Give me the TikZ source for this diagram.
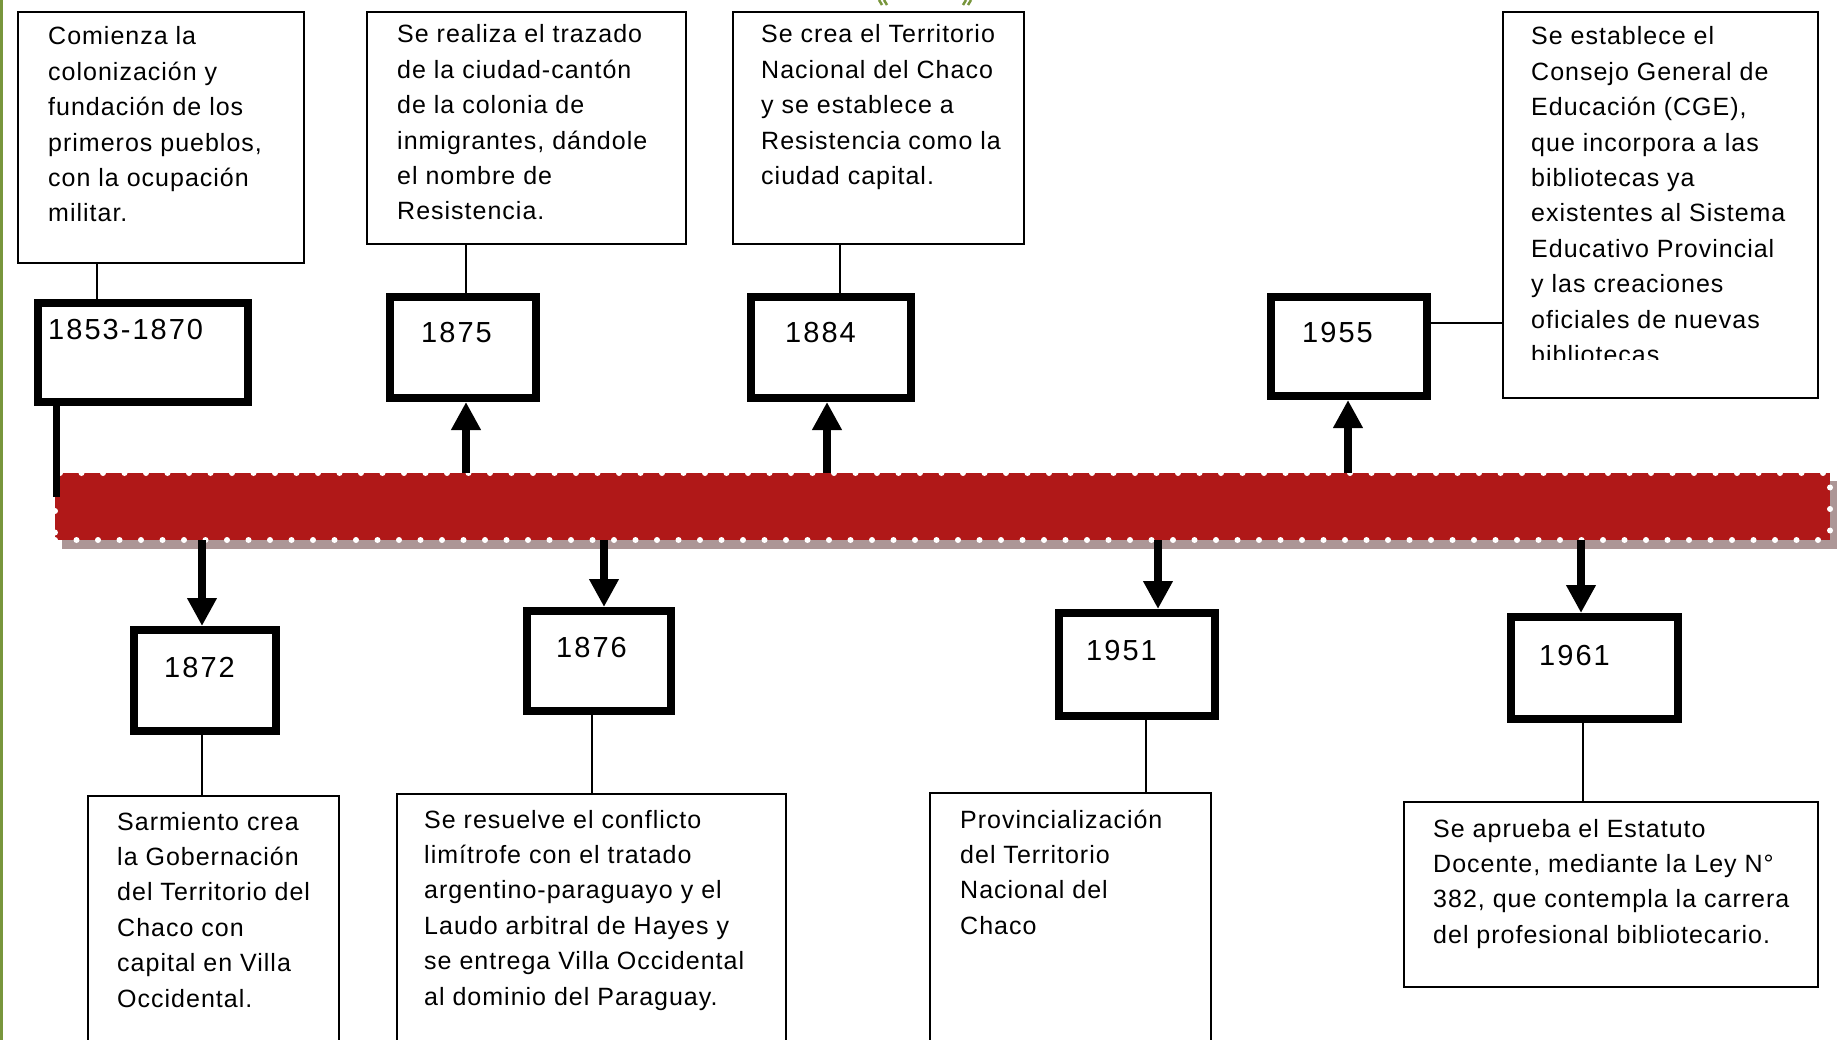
\documentclass[tikz,border=0pt]{standalone}
\usepackage{fontspec}
\setmainfont{Liberation Sans}
\newfontfamily\bodyfont[LetterSpace=4]{Liberation Sans}
\newfontfamily\yearfont[LetterSpace=7]{Liberation Sans}
\usetikzlibrary{arrows.meta}
\definecolor{barred}{RGB}{176,24,24}
\definecolor{barshadow}{RGB}{172,150,150}
\definecolor{edgegreen}{RGB}{120,150,60}
\newcommand{\txtlines}[1]{\parbox[t]{420pt}{\raggedright\bodyfont\fontsize{25}{35.4}\selectfont #1}}
\begin{document}
\begin{tikzpicture}[x=1pt,y=-1pt,
  textbox/.style={draw, line width=2.5pt, fill=white, inner sep=0pt},
  yearbox/.style={draw, line width=8pt, fill=white, inner sep=0pt},
  bodytext/.style={anchor=base west, inner sep=0pt},
  yeartext/.style={anchor=base west, inner sep=0pt, font=\yearfont\fontsize{29}{35}\selectfont},
  thinline/.style={line width=2pt},
  thickarrow/.style={line width=8pt, -{Triangle[width=28pt,length=28pt]}},
  greenmark/.style={edgegreen, line width=2.5pt}
  ]
\useasboundingbox (0,0) rectangle (1841,1040);
\clip (0,0) rectangle (1841,1040);
\fill[white] (0,0) rectangle (1841,1040);
\fill[edgegreen] (0,0) rectangle (3,1040);
\draw[greenmark] (879,0) -- (882,5) (884,0) -- (887,5);
\draw[greenmark] (966,0) -- (963,5) (971,0) -- (968,5);

% text boxes (top)
\node[textbox, minimum width=286pt, minimum height=251pt] (tA) at (161,137.5) {};
\node[textbox, minimum width=319pt, minimum height=232pt] (tB) at (526.5,128) {};
\node[textbox, minimum width=291pt, minimum height=232pt] (tC) at (878.5,128) {};
\node[textbox, minimum width=315pt, minimum height=386pt] (tD) at (1660.5,205) {};
% text boxes (bottom)
\node[textbox, minimum width=251pt, minimum height=274pt] (tE) at (213.5,933) {};
\node[textbox, minimum width=389pt, minimum height=276pt] (tF) at (591.5,932) {};
\node[textbox, minimum width=281pt, minimum height=277pt] (tG) at (1070.5,931.5) {};
\node[textbox, minimum width=414pt, minimum height=185pt] (tH) at (1611,894.5) {};

\node[bodytext] (xA) at (48,45) {\txtlines{Comienza la\\colonización y\\fundación de los\\primeros pueblos,\\con la ocupación\\militar.}};
\node[bodytext] (xB) at (397,43) {\txtlines{Se realiza el trazado\\de la ciudad-cantón\\de la colonia de\\inmigrantes, dándole\\el nombre de\\Resistencia.}};
\node[bodytext] (xC) at (761,43) {\txtlines{Se crea el Territorio\\Nacional del Chaco\\y se establece a\\Resistencia como la\\ciudad capital.}};
\begin{scope}
\clip (1503,12) rectangle (1818,359);
\node[bodytext] (xD) at (1531,45) {\txtlines{Se establece el\\Consejo General de\\Educación (CGE),\\que incorpora a las\\bibliotecas ya\\existentes al Sistema\\Educativo Provincial\\y las creaciones\\oficiales de nuevas\\bibliotecas}};
\end{scope}
\node[bodytext] (xE) at (117,830) {\txtlines{Sarmiento crea\\la Gobernación\\del Territorio del\\Chaco con\\capital en Villa\\Occidental.}};
\node[bodytext] (xF) at (424,828) {\txtlines{Se resuelve el conflicto\\limítrofe con el tratado\\argentino-paraguayo y el\\Laudo arbitral de Hayes y\\se entrega Villa Occidental\\al dominio del Paraguay.}};
\node[bodytext] (xG) at (960,828) {\txtlines{Provincialización\\del Territorio\\Nacional del\\Chaco}};
\node[bodytext] (xH) at (1433,837) {\txtlines{Se aprueba el Estatuto\\Docente, mediante la Ley N°\\382, que contempla la carrera\\del profesional bibliotecario.}};

% year boxes
\node[yearbox, minimum width=210pt, minimum height=99pt] (y1) at (143,352.5) {};
\node[yearbox, minimum width=146pt, minimum height=101pt] (y2) at (463,347.5) {};
\node[yearbox, minimum width=160pt, minimum height=101pt] (y3) at (831,347.5) {};
\node[yearbox, minimum width=156pt, minimum height=99pt] (y4) at (1349,346.5) {};
\node[yearbox, minimum width=142pt, minimum height=101pt] (y5) at (205,680.5) {};
\node[yearbox, minimum width=144pt, minimum height=100pt] (y6) at (599,661) {};
\node[yearbox, minimum width=156pt, minimum height=103pt] (y7) at (1137,664.5) {};
\node[yearbox, minimum width=167pt, minimum height=102pt] (y8) at (1594.5,668) {};

\node[yeartext] (n1) at (48,340) {1853-1870};
\node[yeartext] (n2) at (421,343) {1875};
\node[yeartext] (n3) at (785,343) {1884};
\node[yeartext] (n4) at (1302,343) {1955};
\node[yeartext] (n5) at (164,677) {1872};
\node[yeartext] (n6) at (556,657) {1876};
\node[yeartext] (n7) at (1086,660) {1951};
\node[yeartext] (n8) at (1539,665) {1961};

% thin connectors
\coordinate (cA) at (97,0);
\coordinate (cB) at (466,0);
\coordinate (cC) at (840,0);
\coordinate (cD) at (0,323);
\coordinate (cE) at (202,0);
\coordinate (cF) at (592,0);
\coordinate (cG) at (1146,0);
\coordinate (cH) at (1583,0);
\draw[thinline] (tA.south -| cA) -- (y1.north -| cA);
\draw[thinline] (tB.south -| cB) -- (y2.north -| cB);
\draw[thinline] (tC.south -| cC) -- (y3.north -| cC);
\draw[thinline] (y4.east |- cD) -- (tD.west |- cD);
\draw[thinline] (y5.south -| cE) -- (tE.north -| cE);
\draw[thinline] (y6.south -| cF) -- (tF.north -| cF);
\draw[thinline] (y7.south -| cG) -- (tG.north -| cG);
\draw[thinline] (y8.south -| cH) -- (tH.north -| cH);

% the bar
\fill[barshadow] (62,481) rectangle (1837,549);
\node[fill=barred, draw=white, line width=6pt, dash pattern=on 0pt off 21.5pt, line cap=round,
      minimum width=1775pt, minimum height=67pt, inner sep=0pt, outer sep=0pt] (bar) at (942.5,506.5) {};

% thick line and arrows
\coordinate (lx) at (56,497);
\draw[line width=7pt] (y1.south -| lx) -- (lx);
\coordinate (a2) at (466,0);
\coordinate (a3) at (827,0);
\coordinate (a4) at (1348,0);
\coordinate (a5) at (202,0);
\coordinate (a6) at (604,0);
\coordinate (a7) at (1158,0);
\coordinate (a8) at (1581,0);
\draw[thickarrow] (bar.north -| a2) -- (y2.south -| a2);
\draw[thickarrow] (bar.north -| a3) -- (y3.south -| a3);
\draw[thickarrow] (bar.north -| a4) -- (y4.south -| a4);
\draw[thickarrow] (bar.south -| a5) -- (y5.north -| a5);
\draw[thickarrow] (bar.south -| a6) -- (y6.north -| a6);
\draw[thickarrow] (bar.south -| a7) -- (y7.north -| a7);
\draw[thickarrow] (bar.south -| a8) -- (y8.north -| a8);
\end{tikzpicture}
\end{document}
